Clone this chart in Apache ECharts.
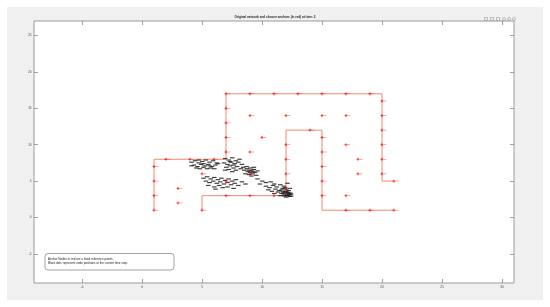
<!DOCTYPE html>
<html><head><meta charset="utf-8">
<script src="https://cdn.jsdelivr.net/npm/echarts@6.0.0/dist/echarts.min.js"></script>
<style>html,body{margin:0;padding:0;background:#fff}#c{width:550px;height:307px}</style>
</head><body><div id="c"></div>
<script>
const titleText = 'Original network and chosen anchors (in red) at time: 2';
const noteLines = ['Anchor Nodes in red are a fixed reference points.', 'Black dots represent node positions at the current time step.'];
const xTicks = [-5, 0, 5, 10, 15, 20, 25, 30];
const yTicks = [-5, 0, 5, 10, 15, 20, 25];
const xRange = [-9, 31];
const yRange = [-9, 27];
const pathA = [[1,1],[1,8],[7,8],[7,17],[20,17],[20,5],[21,5]];
const pathB = [[5,1],[5,3],[12,3],[12,12],[15,12],[15,1],[21,1]];
const anchors = [
  [1,1],[1,3],[1,5],[1,7],[2,8],[4,8],[6,8],[7,9],[7,11],[7,13],[7,15],[7,17],
  [9,17],[11,17],[13,17],[15,17],[17,17],[19,17],[20,16],[20,14],[20,12],[20,10],[20,8],[20,6],[21,5],
  [5,1],[7,3],[9,3],[11,3],[12,4],[12,6],[12,8],[12,10],[14,12],[15,11],[15,9],[15,7],[15,5],[15,3],
  [17,1],[19,1],[21,1],
  [3,4],[3,2],[5,6],[7,5],[9,6],[9,9],[10,11],[9,14],[12,14],[15,14],[17,14],[17,10],[18,8],[18,6],[17,3]
];
const nodes = [
  [4.0,7.6],[4.3,7.8],[4.6,7.5],[4.9,7.7],[5.2,7.9],[5.5,7.6],[5.8,7.8],[6.1,7.5],[4.2,7.2],[4.5,7.0],
  [4.8,7.3],[5.1,7.1],[5.4,7.3],[5.7,7.0],[6.0,7.2],[6.2,7.4],[4.4,6.8],[4.7,6.7],[5.0,6.9],[5.3,6.7],
  [5.6,6.8],[4.0,7.1],[5.9,6.7],[4.6,7.9],[5.0,7.4],[5.5,7.1],
  [6.8,8.1],[7.1,7.9],[7.4,8.2],[7.7,7.8],[8.0,8.0],[6.7,7.5],[7.0,7.3],[7.3,7.6],[7.6,7.4],[7.9,7.6],
  [8.2,7.3],[6.9,6.9],[7.2,7.1],[7.5,6.8],[7.8,7.0],[8.1,6.7],[6.8,6.5],[7.1,6.6],[7.4,6.3],[7.7,6.5],
  [7.2,7.7],[7.5,7.2],
  [8.3,6.9],[8.6,7.0],[8.9,6.8],[9.2,6.9],[8.4,6.5],[8.7,6.3],[9.0,6.5],[9.3,6.2],[9.5,6.4],[8.5,6.0],
  [8.8,5.9],[9.1,6.0],[9.4,5.8],[8.6,6.7],[8.9,6.2],[9.2,6.6],[9.0,5.7],[8.8,6.5],[9.1,6.3],
  [5.0,5.4],[5.3,5.6],[5.6,5.3],[5.9,5.5],[6.2,5.2],[6.5,5.4],[6.8,5.1],[7.1,5.3],[7.4,5.0],[7.7,5.2],
  [5.2,5.0],[5.5,4.8],[5.8,5.0],[6.1,4.7],[6.4,4.9],[6.7,4.6],[7.0,4.8],[7.3,4.5],[7.6,4.7],[7.9,4.4],
  [5.4,4.4],[5.9,4.2],[6.3,4.4],[6.6,4.1],[7.0,4.2],[7.5,4.0],[6.0,3.9],[8.2,4.9],[8.5,4.6],
  [9.5,5.3],[9.9,5.0],[10.2,4.8],[9.7,4.6],[10.6,4.9],[10.9,4.6],
  [10.2,4.3],[10.5,4.1],[10.8,4.4],[11.1,4.2],[11.4,4.5],[11.7,4.3],[12.0,4.7],[10.4,3.8],[10.7,3.6],
  [11.0,3.9],[11.3,3.7],[11.6,4.0],[11.9,3.8],[12.2,4.0],[10.9,3.3],[11.2,3.5],[11.5,3.3],[11.8,3.5],
  [12.1,3.3],[11.4,3.0],[11.7,3.1],[12.0,3.0],[12.3,3.2],[11.9,2.8],[12.2,2.9],[11.6,3.6],[11.85,3.25],
  [12.05,3.45],[12.15,3.15],[11.95,3.05],[11.75,2.95],[12.25,3.35],[11.5,3.8],[11.8,4.1],
  [12.1,3.7],[11.9,3.55],[12.3,2.95],[11.65,3.4]
];

const FONT = 'Liberation Sans, Arial, sans-serif';
const chart = echarts.init(document.getElementById('c'), null, {renderer: 'canvas'});
const tickStyle = {show: true, inside: true, length: 4, lineStyle: {color: '#8a8a8a', width: 0.8}};
function mkAxis(range, ticks, pos, showLabel) {
  return {
    type: 'value', min: range[0], max: range[1], position: pos,
    splitLine: {show: false},
    axisLine: {show: false, onZero: false},
    axisTick: Object.assign({}, tickStyle, {customValues: ticks}),
    axisLabel: showLabel ? {customValues: ticks, fontSize: 3, color: '#444', margin: 2.5, fontFamily: FONT} : {show: false}
  };
}
const plusPath = 'path://M-1,0L1,0M0,-1L0,1';
const option = {
  backgroundColor: '#ffffff',
  animation: false,
  graphic: [
    {type: 'rect', z: -10, shape: {x: 7, y: 7, width: 536, height: 293}, style: {fill: '#f0f0f0'}, silent: true},
    {type: 'text', left: 'center', top: 16, style: {text: titleText, font: 'bold 3.1px ' + FONT, fill: '#222'}},
    {type: 'group', left: 482, top: 15, children: [
      {type: 'rect', shape: {x: 0, y: 0, width: 3, height: 3}, style: {fill: 'none', stroke: '#9a9a9a', lineWidth: 0.6}},
      {type: 'rect', shape: {x: 6, y: 0, width: 3, height: 3}, style: {fill: 'none', stroke: '#9a9a9a', lineWidth: 0.6}},
      {type: 'rect', shape: {x: 12, y: 0, width: 3, height: 3}, style: {fill: 'none', stroke: '#9a9a9a', lineWidth: 0.6}},
      {type: 'circle', shape: {cx: 19.5, cy: 1.5, r: 1.5}, style: {fill: 'none', stroke: '#9a9a9a', lineWidth: 0.6}},
      {type: 'circle', shape: {cx: 24.5, cy: 1.5, r: 1.5}, style: {fill: 'none', stroke: '#9a9a9a', lineWidth: 0.6}},
      {type: 'circle', shape: {cx: 29.5, cy: 1.5, r: 1.5}, style: {fill: 'none', stroke: '#9a9a9a', lineWidth: 0.6}}
    ]},
    {type: 'rect', z: 100, shape: {x: 45, y: 253.5, width: 129, height: 16.5, r: 3}, style: {fill: '#ffffff', stroke: '#8a8a8a', lineWidth: 0.8}},
    {type: 'text', z: 101, left: 48, top: 257, style: {text: noteLines.join('\n'), font: '3px ' + FONT, fill: '#222', lineHeight: 4.4}}
  ],
  grid: {left: 34, top: 21, width: 480, height: 262, show: true, backgroundColor: '#ffffff', borderColor: '#9a9a9a', borderWidth: 1},
  xAxis: [mkAxis(xRange, xTicks, 'bottom', true), mkAxis(xRange, xTicks, 'top', false)],
  yAxis: [mkAxis(yRange, yTicks, 'left', true), mkAxis(yRange, yTicks, 'right', false)],
  series: [
    {type: 'line', data: pathA, symbol: 'none', lineStyle: {color: '#ef8a70', width: 1}, z: 2},
    {type: 'line', data: pathB, symbol: 'none', lineStyle: {color: '#ef8a70', width: 1}, z: 2},
    {type: 'scatter', data: nodes, symbol: 'rect', symbolSize: [4.5, 1.2], symbolOffset: [1.5, 0], itemStyle: {color: '#111'}, z: 3},
    {type: 'scatter', data: anchors, symbol: plusPath, symbolSize: 3, itemStyle: {color: '#ff0000', borderColor: '#ff0000', borderWidth: 0.9}, z: 4},
    {type: 'scatter', data: anchors, symbol: 'rect', symbolSize: [2.5, 0.6], symbolOffset: [3, 0], itemStyle: {color: '#ff4040'}, z: 4}
  ]
};
chart.setOption(option);
</script></body></html>
